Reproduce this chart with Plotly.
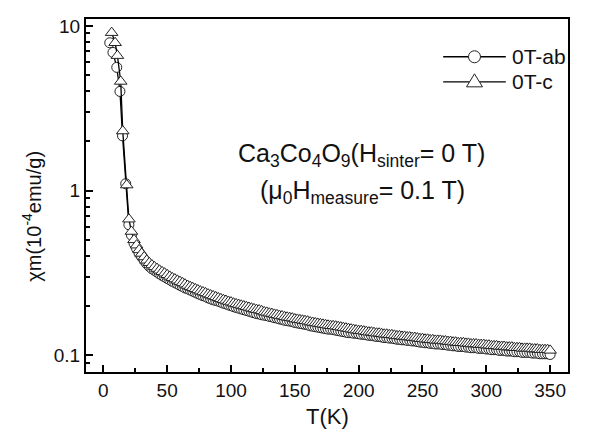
import plotly.graph_objects as go

# ---------------- data ----------------
# low-temperature points (K) and chi (1e-4 emu/g)
T_ab_low = [5, 7.5, 10.5, 13, 15, 17.5]
chi_ab_low = [7.9, 6.9, 5.6, 4.0, 2.15, 1.1]
T_c_low = [6.5, 9.2, 11, 13.6, 15.2, 18.3]
chi_c_low = [9.1, 7.9, 6.6, 4.6, 2.3, 1.08]

T_tail = list(range(20, 351, 2))

chi_ab_tail = [
    0.62, 0.536, 0.478, 0.444, 0.414, 0.395, 0.375, 0.359, 0.346, 0.335,
    0.328, 0.320, 0.312, 0.305, 0.299, 0.293, 0.287, 0.281, 0.276, 0.271,
    0.266, 0.261, 0.256, 0.253, 0.249, 0.245, 0.241, 0.237, 0.233, 0.230,
    0.227, 0.223, 0.220, 0.217, 0.215, 0.213, 0.210, 0.207, 0.205, 0.202,
    0.200, 0.197, 0.195, 0.193, 0.191, 0.189, 0.187, 0.185, 0.183, 0.181,
    0.179, 0.178, 0.176, 0.175, 0.174, 0.172, 0.171, 0.169, 0.168, 0.166,
    0.165, 0.163, 0.162, 0.161, 0.160, 0.158, 0.157, 0.156, 0.155, 0.154,
    0.153, 0.151, 0.150, 0.149, 0.148, 0.147, 0.146, 0.145, 0.144, 0.144,
    0.143, 0.142, 0.141, 0.140, 0.139, 0.138, 0.137, 0.137, 0.136, 0.136,
    0.135, 0.134, 0.134, 0.133, 0.132, 0.132, 0.131, 0.130, 0.130, 0.129,
    0.128, 0.128, 0.127, 0.127, 0.126, 0.125, 0.125, 0.124, 0.124, 0.123,
    0.123, 0.122, 0.122, 0.121, 0.120, 0.120, 0.119, 0.119, 0.118, 0.118,
    0.117, 0.117, 0.117, 0.116, 0.116, 0.115, 0.115, 0.114, 0.114, 0.113,
    0.113, 0.113, 0.112, 0.112, 0.111, 0.111, 0.111, 0.110, 0.110, 0.110,
    0.109, 0.109, 0.108, 0.108, 0.108, 0.107, 0.107, 0.107, 0.106, 0.106,
    0.106, 0.105, 0.105, 0.105, 0.104, 0.104, 0.104, 0.104, 0.103, 0.103,
    0.103, 0.102, 0.102, 0.102, 0.102, 0.101,
]

chi_c_tail = [
    0.67, 0.564, 0.502, 0.466, 0.436, 0.415, 0.395, 0.377, 0.364, 0.353,
    0.344, 0.336, 0.328, 0.321, 0.315, 0.308, 0.301, 0.295, 0.290, 0.285,
    0.280, 0.275, 0.270, 0.265, 0.261, 0.257, 0.253, 0.249, 0.245, 0.242,
    0.239, 0.235, 0.232, 0.229, 0.226, 0.223, 0.220, 0.217, 0.215, 0.212,
    0.210, 0.207, 0.205, 0.203, 0.201, 0.199, 0.197, 0.195, 0.193, 0.191,
    0.189, 0.188, 0.186, 0.183, 0.182, 0.180, 0.179, 0.177, 0.176, 0.174,
    0.173, 0.171, 0.170, 0.169, 0.168, 0.166, 0.165, 0.164, 0.163, 0.162,
    0.161, 0.159, 0.158, 0.157, 0.156, 0.155, 0.154, 0.153, 0.152, 0.151,
    0.151, 0.150, 0.149, 0.148, 0.147, 0.146, 0.145, 0.144, 0.143, 0.142,
    0.141, 0.141, 0.140, 0.139, 0.138, 0.138, 0.137, 0.136, 0.136, 0.135,
    0.134, 0.134, 0.133, 0.133, 0.132, 0.131, 0.131, 0.130, 0.130, 0.129,
    0.129, 0.128, 0.128, 0.127, 0.126, 0.126, 0.125, 0.125, 0.124, 0.124,
    0.123, 0.123, 0.123, 0.122, 0.122, 0.121, 0.121, 0.120, 0.120, 0.119,
    0.119, 0.119, 0.118, 0.118, 0.117, 0.117, 0.117, 0.116, 0.116, 0.116,
    0.115, 0.115, 0.114, 0.114, 0.114, 0.113, 0.113, 0.113, 0.112, 0.112,
    0.112, 0.111, 0.111, 0.111, 0.110, 0.110, 0.110, 0.110, 0.109, 0.109,
    0.109, 0.108, 0.108, 0.108, 0.108, 0.107,
]

x_ticks = [0, 50, 100, 150, 200, 250, 300, 350]
x_minor = [25, 75, 125, 175, 225, 275, 325]
y_ticks = [0.1, 1, 10]
y_ticktext = ["0.1", "1", "10"]
y_minor = [0.08, 0.09, 0.2, 0.3, 0.4, 0.5, 0.6, 0.7, 0.8, 0.9,
           2, 3, 4, 5, 6, 7, 8, 9]

series_names = ["0T-ab", "0T-c"]

T_ab = T_ab_low + T_tail
chi_ab = chi_ab_low + chi_ab_tail
T_c = T_c_low + T_tail
chi_c = chi_c_low + chi_c_tail

FONT = "Liberation Sans, Arial, sans-serif"
INK = "#111"

fig = go.Figure()
fig.add_trace(go.Scatter(
    x=T_ab, y=chi_ab, name=series_names[0], mode="lines+markers",
    line=dict(color="black", width=1.3),
    marker=dict(symbol="circle", size=10, color="white",
                line=dict(color="#222", width=1)),
    showlegend=False,
))
fig.add_trace(go.Scatter(
    x=T_c, y=chi_c, name=series_names[1], mode="lines+markers",
    line=dict(color="black", width=1.3),
    marker=dict(symbol="triangle-up", size=11, color="white",
                line=dict(color="#222", width=1)),
    showlegend=False,
))

# ---- custom legend (paper coordinates of the plot area) ----
leg_x0, leg_x1 = 0.741, 0.871     # sample line extent
leg_rows = [0.893, 0.822]        # row centres
shapes = []
for yy in leg_rows:
    shapes.append(dict(type="line", xref="paper", yref="paper",
                       x0=leg_x0, x1=leg_x1, y0=yy, y1=yy,
                       line=dict(color="black", width=1.3)))
xc = (leg_x0 + leg_x1) / 2
shapes.append(dict(type="circle", xref="paper", yref="paper",
                   xsizemode="pixel", ysizemode="pixel",
                   xanchor=xc, yanchor=leg_rows[0],
                   x0=-6, x1=6, y0=-6, y1=6,
                   fillcolor="white", line=dict(color="#222", width=1)))
shapes.append(dict(type="path", xref="paper", yref="paper",
                   xsizemode="pixel", ysizemode="pixel",
                   xanchor=xc, yanchor=leg_rows[1],
                   path="M-8,-5 L8,-5 L0,8 Z",
                   fillcolor="white", line=dict(color="#222", width=1)))

annotations = [
    dict(text=series_names[0], xref="paper", yref="paper",
         x=leg_x1 + 0.008, y=leg_rows[0], xanchor="left", yanchor="middle",
         showarrow=False, font=dict(size=21)),
    dict(text=series_names[1], xref="paper", yref="paper",
         x=leg_x1 + 0.008, y=leg_rows[1], xanchor="left", yanchor="middle",
         showarrow=False, font=dict(size=21)),
    dict(text="χm(10<sup>-4</sup>emu/g)", textangle=-90,
         xref="paper", yref="paper", x=-0.112, y=0.44,
         xanchor="center", yanchor="middle", showarrow=False,
         font=dict(size=20)),
    dict(text="T(K)", xref="paper", yref="paper", x=0.5, y=-0.125,
         xanchor="center", yanchor="middle", showarrow=False,
         font=dict(size=22)),
    dict(text="Ca<sub>3</sub>Co<sub>4</sub>O<sub>9</sub>(H<sub>sinter</sub>= 0 T)",
         xref="paper", yref="paper", x=0.572, y=0.615,
         xanchor="center", yanchor="middle", showarrow=False,
         font=dict(size=25)),
    dict(text="(μ<sub>0</sub>H<sub>measure</sub>= 0.1 T)",
         xref="paper", yref="paper", x=0.573, y=0.51,
         xanchor="center", yanchor="middle", showarrow=False,
         font=dict(size=25)),
]

fig.update_layout(
    width=585, height=425,
    margin=dict(l=78, r=25, t=8, b=61),
    paper_bgcolor="white", plot_bgcolor="white",
    font=dict(family=FONT, color=INK, size=19),
    showlegend=False,
    xaxis=dict(
        range=[-13.6, 364], tickvals=x_ticks,
        ticks="inside", ticklen=7, tickwidth=2, tickcolor="black",
        showline=True, linewidth=2, linecolor="black", mirror=True,
        showgrid=False, zeroline=False,
        tickfont=dict(size=19),
        minor=dict(tickvals=x_minor, ticks="inside", ticklen=4,
                   tickwidth=2, tickcolor="black"),
    ),
    yaxis=dict(
        type="log", range=[-1.102, 1.042],
        tickvals=y_ticks, ticktext=y_ticktext,
        ticks="inside", ticklen=7, tickwidth=2, tickcolor="black",
        showline=True, linewidth=2, linecolor="black", mirror=True,
        showgrid=False, zeroline=False,
        tickfont=dict(size=19),
        minor=dict(tickvals=y_minor, ticks="inside", ticklen=4,
                   tickwidth=2, tickcolor="black"),
    ),
    shapes=shapes,
    annotations=annotations,
)

fig.write_html("out.html")
